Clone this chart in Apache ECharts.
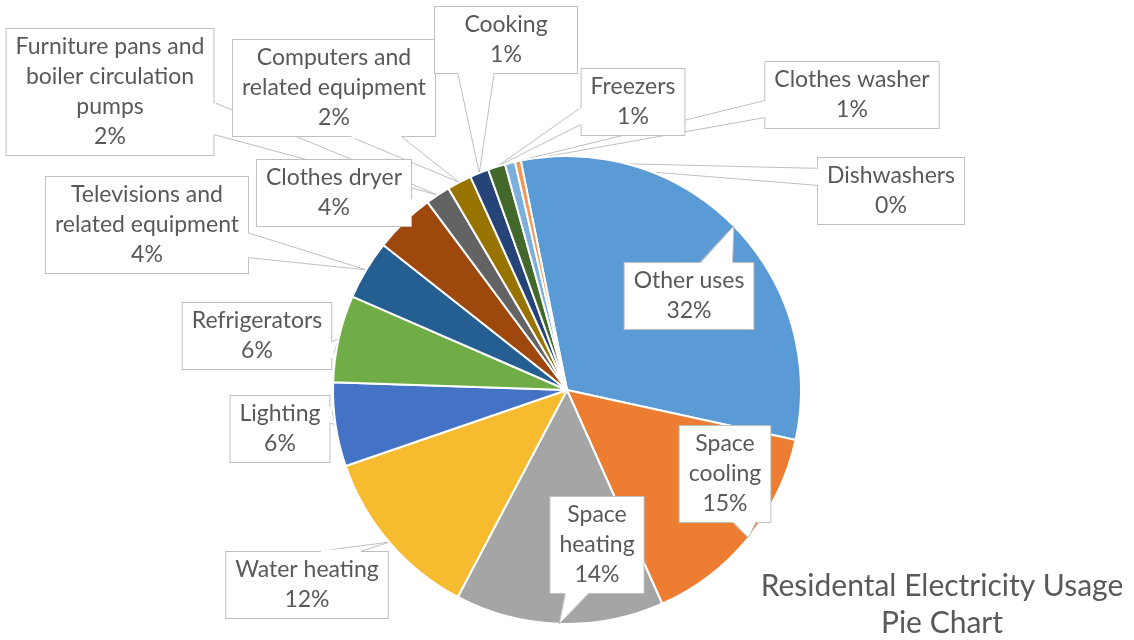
<!DOCTYPE html>
<html>
<head>
<meta charset="utf-8">
<script src="https://cdn.jsdelivr.net/npm/echarts@6/dist/echarts.min.js"></script>
<style>
  html, body { margin: 0; padding: 0; background: #ffffff; }
  #chart { width: 1134px; height: 640px; }
</style>
</head>
<body>
<div id="chart"></div>
<script>
// Residential electricity end uses, share of total (%)
const categories = [
  'Other uses',
  'Space\ncooling',
  'Space\nheating',
  'Water heating',
  'Lighting',
  'Refrigerators',
  'Televisions and\nrelated equipment',
  'Clothes dryer',
  'Furniture pans and\nboiler circulation\npumps',
  'Computers and\nrelated equipment',
  'Cooking',
  'Freezers',
  'Clothes washer',
  'Dishwashers'
];
const shares = [31.6, 14.9, 14.4, 12.0, 5.8, 6.0, 4.1, 4.2, 1.7, 1.7, 1.3, 1.2, 0.7, 0.4];
const sliceColors = [
  '#5B9BD5', '#ED7D31', '#A5A5A5', '#F6BB2E', '#4472C4', '#70AD47', '#255E91',
  '#9E480E', '#636363', '#997300', '#264478', '#43682B', '#7CAFDD', '#F1975A'
];

// Centre of each callout box
const calloutCenters = [
  [689, 296], [725, 474], [597, 545], [307, 585], [280, 429], [257, 336], [147, 225],
  [334, 193], [110, 92], [334, 88], [506, 40], [633, 102], [852, 95], [891, 191]
];
// Fixed text widths for callouts that are wider than their text
const calloutWidths = { 10: 124 };

const FONT = 'Lato, "Noto Sans", sans-serif';
const TEXT_COLOR = '#595959';
const EDGE_COLOR = '#BFBFBF';
const total = shares.reduce((a, b) => a + b, 0);
const boxes = [];

const chart = echarts.init(document.getElementById('chart'), null, { renderer: 'canvas' });

chart.setOption({
  animation: false,
  backgroundColor: '#ffffff',
  title: {
    text: 'Residental Electricity Usage\nPie Chart',
    left: 937,
    top: 563,
    textAlign: 'center',
    textStyle: {
      fontFamily: FONT,
      fontSize: 30,
      fontWeight: 'normal',
      color: TEXT_COLOR,
      lineHeight: 37
    }
  },
  series: [{
    type: 'pie',
    z: 2,
    center: [567, 390],
    radius: 234,
    startAngle: 101.4,
    clockwise: true,
    avoidLabelOverlap: false,
    emphasis: { disabled: true },
    itemStyle: { borderColor: '#ffffff', borderWidth: 2 },
    label: {
      show: true,
      position: 'outside',
      formatter: p => p.name + '\n' + Math.round(p.value / total * 100) + '%',
      fontFamily: FONT,
      fontSize: 23,
      lineHeight: 30,
      color: TEXT_COLOR,
      align: 'center',
      backgroundColor: '#ffffff',
      borderColor: EDGE_COLOR,
      borderWidth: 1,
      padding: [3, 9]
    },
    labelLine: { show: false },
    labelLayout: function (params) {
      const c = calloutCenters[params.dataIndex];
      const w = params.labelRect.width;
      const h = params.labelRect.height;
      boxes[params.dataIndex] = { x: c[0] - w / 2, y: c[1] - h / 2, w: w, h: h };
      return { x: c[0], y: c[1], align: 'center', verticalAlign: 'middle' };
    },
    data: categories.map((name, i) => {
      const item = { name: name, value: shares[i], itemStyle: { color: sliceColors[i] } };
      if (calloutWidths[i]) item.label = { width: calloutWidths[i] };
      return item;
    })
  }]
});

// Callout tails: a wedge from the side of each box to the rim of its slice.
// Tails of callouts sitting on the pie are drawn over the slices; the others
// run underneath the slices and boxes.
function buildTails() {
  const data = chart.getModel().getSeriesByIndex(0).getData();
  const elements = [];
  boxes.forEach((b, i) => {
    if (!b) return;
    const lay = data.getItemLayout(i);
    const mid = (lay.startAngle + lay.endAngle) / 2;
    const tip = [lay.cx + lay.r * Math.cos(mid), lay.cy + lay.r * Math.sin(mid)];
    const bx = b.x + b.w / 2, by = b.y + b.h / 2;
    const onPie = Math.hypot(bx - lay.cx, by - lay.cy) < lay.r;
    const nx = (tip[0] - bx) / b.w, ny = (tip[1] - by) / b.h;
    let outer, inner, gap;
    if (Math.abs(nx) >= Math.abs(ny)) {
      const sx = nx > 0 ? b.x + b.w : b.x;
      const f = ny > 0 ? [7 / 12, 10 / 12] : [2 / 12, 5 / 12];
      const ya = b.y + b.h * f[0], yb = b.y + b.h * f[1];
      const d = nx > 0 ? -1.5 : 1.5;
      outer = [[sx, ya], tip, [sx, yb]];
      inner = [[sx + d, ya], tip, [sx + d, yb]];
      gap = [[sx + d, ya + 0.5], [sx - d, ya + 0.5], [sx - d, yb - 0.5], [sx + d, yb - 0.5]];
    } else {
      const sy = ny > 0 ? b.y + b.h : b.y;
      const f = nx > 0 ? [7 / 12, 10 / 12] : [2 / 12, 5 / 12];
      const xa = b.x + b.w * f[0], xb = b.x + b.w * f[1];
      const d = ny > 0 ? -1.5 : 1.5;
      outer = [[xa, sy], tip, [xb, sy]];
      inner = [[xa, sy + d], tip, [xb, sy + d]];
      gap = [[xa + 0.5, sy + d], [xa + 0.5, sy - d], [xb - 0.5, sy - d], [xb - 0.5, sy + d]];
    }
    const z = onPie ? 100 + i * 2 : 1;
    elements.push({
      type: 'polygon', silent: true, z: z,
      shape: { points: inner },
      style: { fill: '#ffffff', stroke: null }
    });
    elements.push({
      type: 'polyline', silent: true, z: z + 1,
      shape: { points: outer },
      style: { fill: null, stroke: EDGE_COLOR, lineWidth: 1 }
    });
    if (!onPie) {
      // open the box border where the tail joins it
      elements.push({
        type: 'polygon', silent: true, z: 100 + i * 2,
        shape: { points: gap },
        style: { fill: '#ffffff', stroke: null }
      });
    }
  });
  chart.setOption({ graphic: elements });
}
buildTails();
</script>
</body>
</html>
